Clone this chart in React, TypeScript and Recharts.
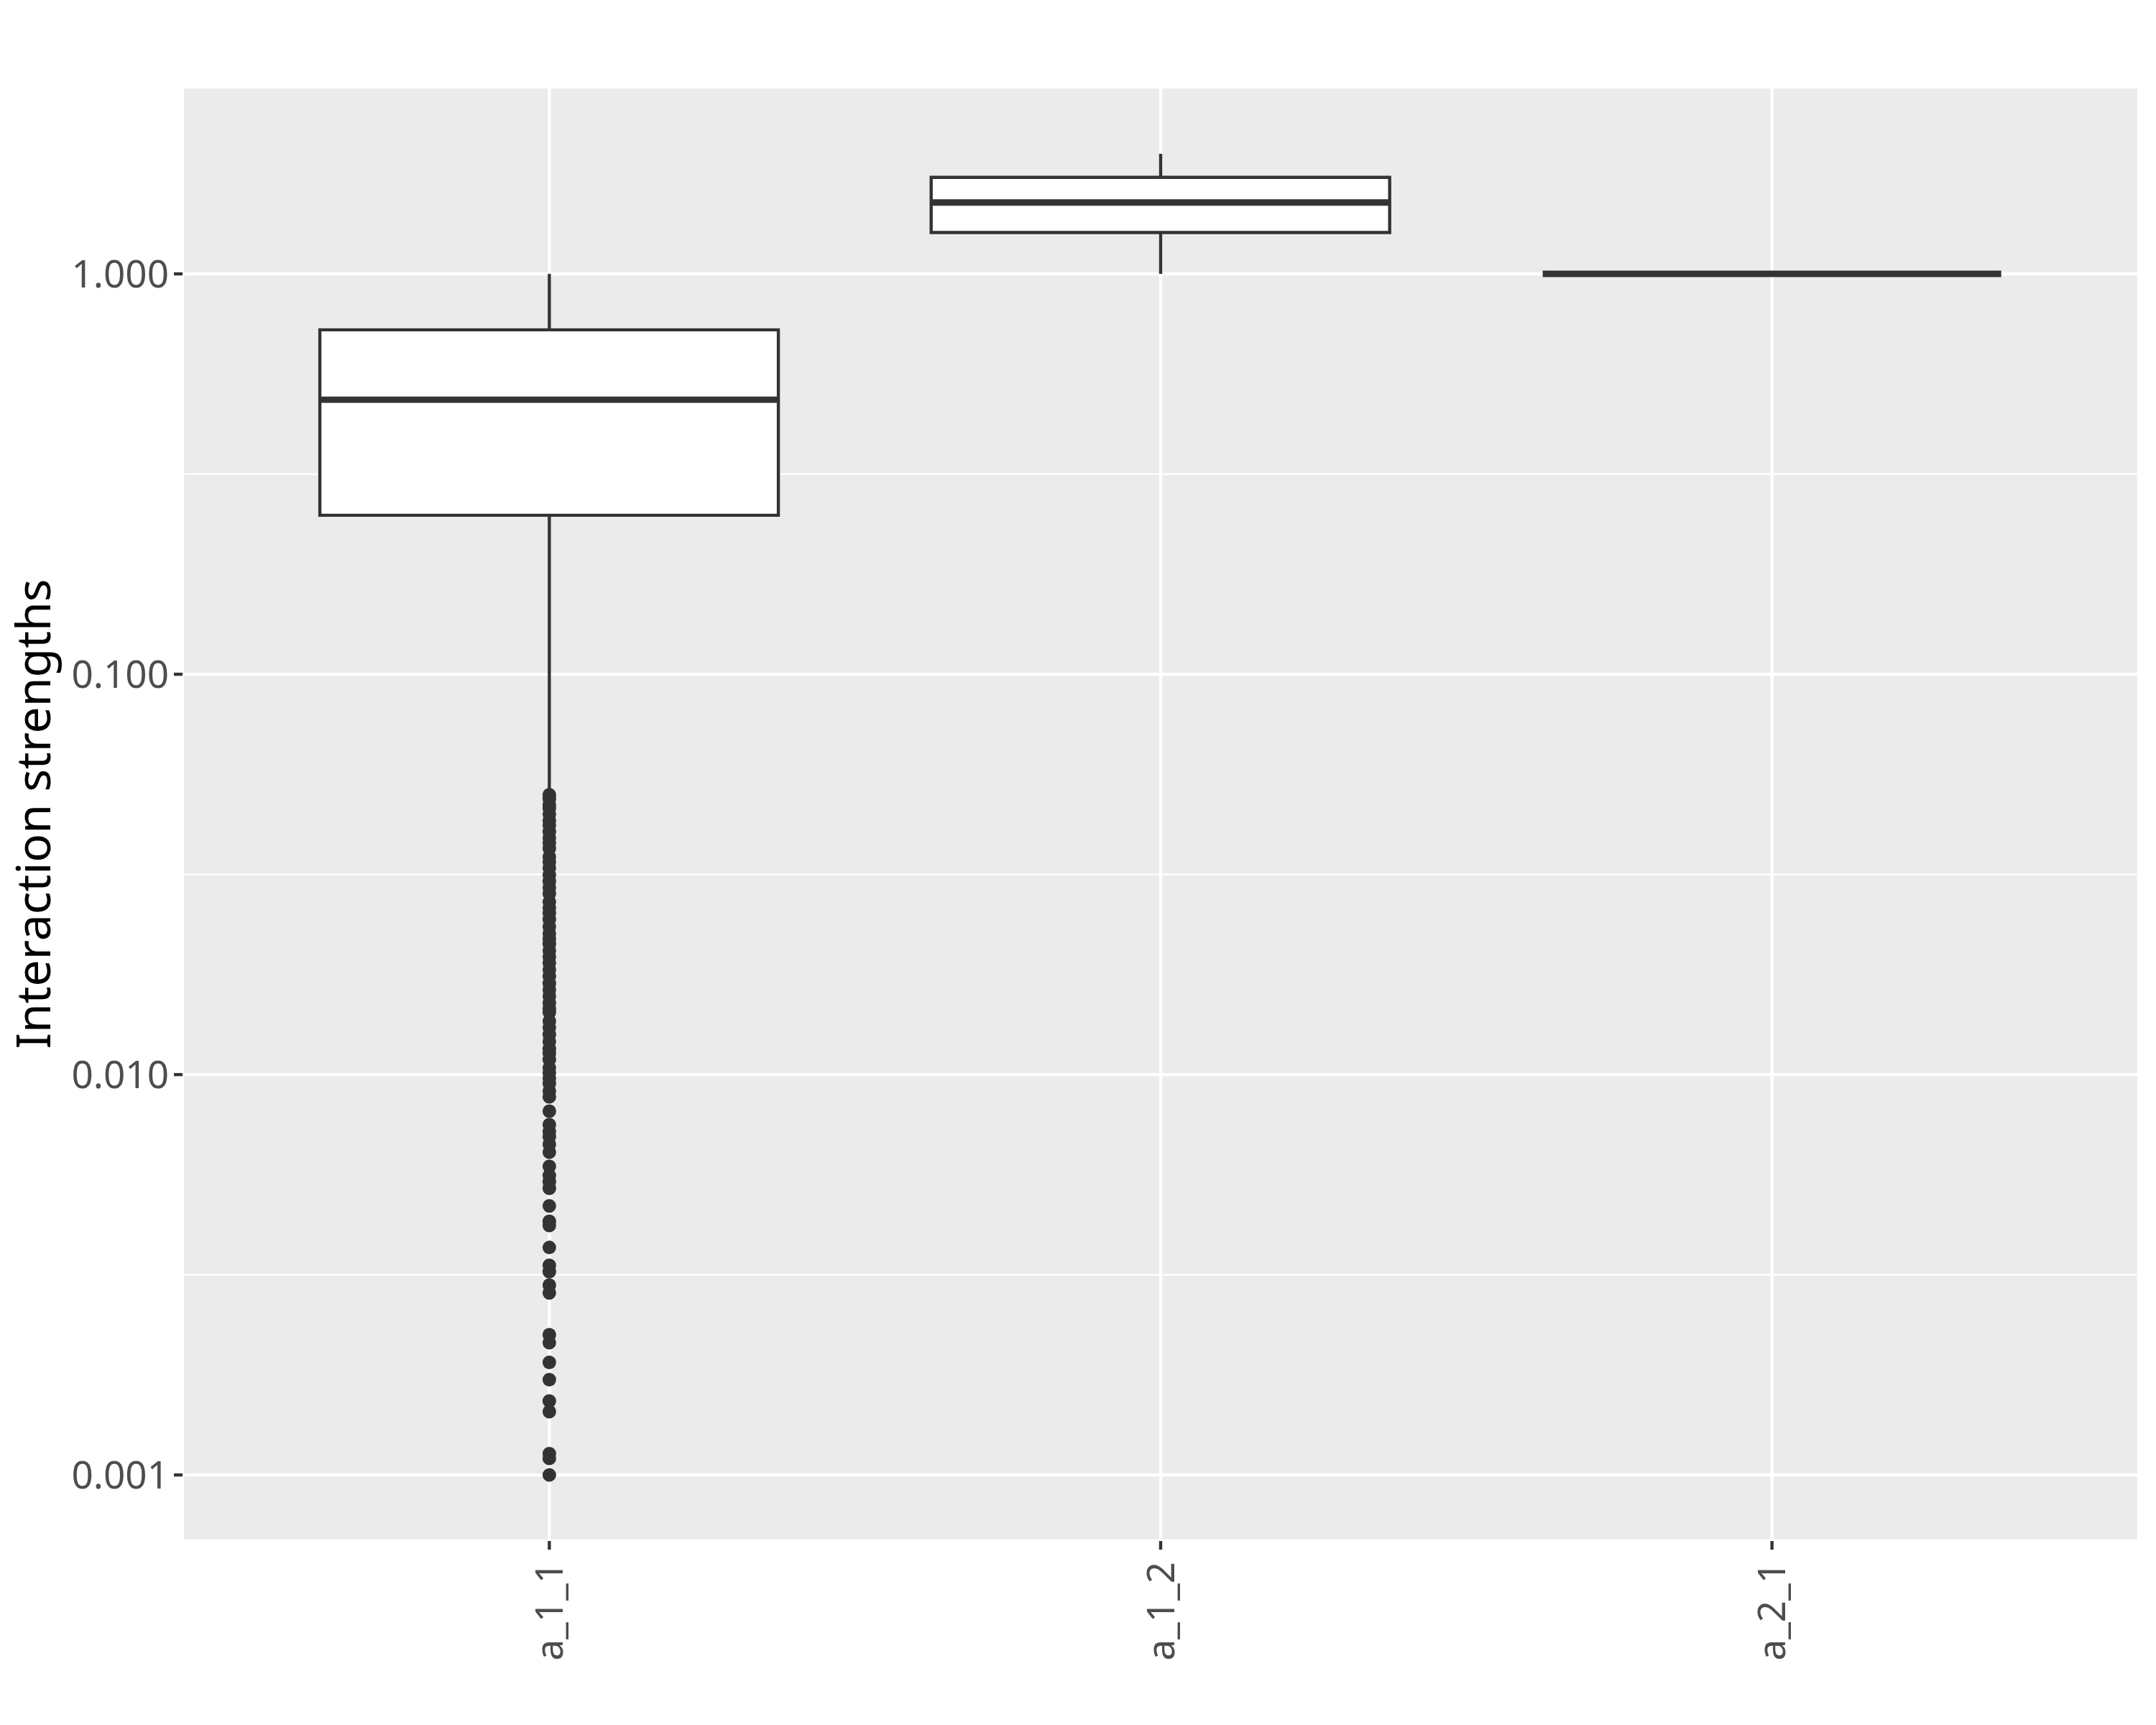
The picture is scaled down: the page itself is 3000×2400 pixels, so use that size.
import React from 'react';
import {
  ComposedChart,
  Bar,
  Scatter,
  ErrorBar,
  XAxis,
  YAxis,
  CartesianGrid,
  ReferenceLine,
} from 'recharts';

// box statistics per category
const categories = ['a_1_1', 'a_1_2', 'a_2_1'];
const whiskerLow = [0.0508, 1.0, 1.0];
const q1 = [0.2495, 1.269, 1.0];
const medians = [0.485, 1.508, 1.0];
const q3 = [0.725, 1.742, 1.0];
const whiskerHigh = [1.0, 1.995, 1.0];

// outliers of a_1_1
const outliersA11 = [
  0.05, 0.0489, 0.0472, 0.0463, 0.0447, 0.0431, 0.042, 0.0404, 0.039, 0.0379,
  0.0367, 0.035, 0.034, 0.0328, 0.0315, 0.0304, 0.0293, 0.0283, 0.027, 0.0261,
  0.0253, 0.0244, 0.0234, 0.0225, 0.0218, 0.0212, 0.0204, 0.0197, 0.019, 0.0183,
  0.0176, 0.0169, 0.0163, 0.0157, 0.0151, 0.0146, 0.0143, 0.0136, 0.0131, 0.0126,
  0.0121, 0.0116, 0.0113, 0.0109, 0.0104, 0.0101, 0.0098, 0.0095, 0.0091, 0.0088,
  0.0081, 0.0075, 0.0072, 0.007, 0.0067, 0.0064, 0.0059, 0.0056, 0.0054, 0.0052,
  0.0047, 0.0043, 0.0042, 0.0037, 0.00334, 0.00322, 0.00298, 0.00285, 0.00224,
  0.00214, 0.00191, 0.00173, 0.00153, 0.00144, 0.00113, 0.0011, 0.001,
];

const yTicks = [0.001, 0.01, 0.1, 1];
const yMinorGrid = [0.0031623, 0.031623, 0.31623];
const yDomain = [0.000684, 2.93];

const INK = '#333333';
const BOX_W = 638;
const FONT = '"Noto Sans", sans-serif';

const boxRows = categories.map((c, i) => ({ x: i + 1, box: [q1[i], q3[i]] }));

const whiskerRows = categories.flatMap((c, i) => {
  const rows: { x: number; y: number; err: number[] }[] = [];
  if (whiskerHigh[i] > q3[i]) rows.push({ x: i + 1, y: q3[i], err: [0, whiskerHigh[i] - q3[i]] });
  if (whiskerLow[i] < q1[i]) rows.push({ x: i + 1, y: q1[i], err: [q1[i] - whiskerLow[i], 0] });
  return rows;
});

const medianRows = categories.map((c, i) => ({ x: i + 1, y: medians[i] }));
const outlierRows = outliersA11.map((v) => ({ x: 1, y: v }));

const MedianLine = (p: any) => (
  <line x1={p.cx - BOX_W / 2} x2={p.cx + BOX_W / 2} y1={p.cy} y2={p.cy} stroke={INK} strokeWidth={8.9} />
);

const Dot = (p: any) => <circle cx={p.cx} cy={p.cy} r={9.5} fill={INK} />;

const Nothing = () => <g />;

const XTick = (p: any) => {
  const { x, y, payload } = p;
  return (
    <text
      x={x}
      y={y}
      dy="0.355em"
      transform={`rotate(-90, ${x}, ${y})`}
      textAnchor="end"
      fill="#4D4D4D"
      fontSize={53}
      fontFamily={FONT}
    >
      {categories[payload.value - 1]}
    </text>
  );
};

export default function App() {
  return (
    <div style={{ position: 'absolute', left: 0, top: 0, width: 3000, height: 2400, background: '#fff' }}>
      <ComposedChart
        width={3000}
        height={2400}
        data={boxRows}
        margin={{ top: 121, right: 24, bottom: 0, left: 0 }}
      >
        <CartesianGrid fill="#EBEBEB" stroke="#FFFFFF" strokeWidth={4.4} />
        {yMinorGrid.map((v) => (
          <ReferenceLine key={v} y={v} stroke="#FFFFFF" strokeWidth={2.2} zIndex={-50} />
        ))}
        <XAxis
          type="number"
          dataKey="x"
          domain={[0.4, 3.6]}
          ticks={[1, 2, 3]}
          allowDataOverflow
          height={256}
          axisLine={false}
          tickLine={{ stroke: INK, strokeWidth: 4.4 }}
          tickSize={12}
          tickMargin={17}
          tick={<XTick />}
          interval={0}
        />
        <YAxis
          type="number"
          dataKey="y"
          scale="log"
          domain={yDomain}
          ticks={yTicks}
          allowDataOverflow
          width={254}
          axisLine={false}
          tickLine={{ stroke: INK, strokeWidth: 4.4 }}
          tickSize={12}
          tickMargin={7}
          tickFormatter={(v: number) => v.toFixed(3)}
          tick={{ fill: '#4D4D4D', fontSize: 53, fontFamily: FONT }}
          interval={0}
          label={{
            value: 'Interaction strengths',
            angle: -90,
            position: 'insideLeft',
            offset: 47,
            fill: '#000000',
            fontSize: 66,
            fontFamily: FONT,
            style: { textAnchor: 'middle' },
          }}
        />
        <Bar
          dataKey="box"
          barSize={BOX_W}
          fill="#FFFFFF"
          stroke={INK}
          strokeWidth={4.4}
          isAnimationActive={false}
        />
        <Scatter data={whiskerRows} dataKey="y" shape={<Nothing />} isAnimationActive={false}>
          <ErrorBar dataKey="err" direction="y" width={0} stroke={INK} strokeWidth={4.4} />
        </Scatter>
        <Scatter data={medianRows} dataKey="y" shape={<MedianLine />} isAnimationActive={false} />
        <Scatter data={outlierRows} dataKey="y" shape={<Dot />} isAnimationActive={false} />
      </ComposedChart>
    </div>
  );
}
